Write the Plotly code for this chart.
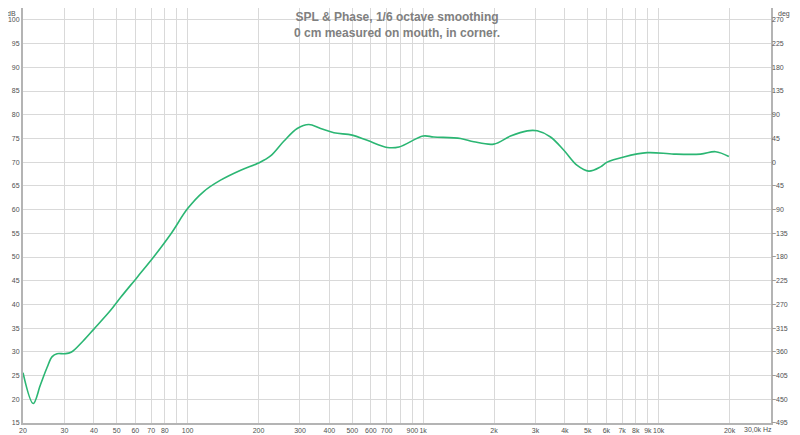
import plotly.graph_objects as go

# Frequency response data (Hz, dB)
freq_hz = [20, 22.1, 23.7, 25.3, 26.6, 27.9, 30, 32, 36, 40, 47, 52, 61, 72, 85, 100, 117, 138, 168,
           200, 225, 256, 292, 327, 367, 418, 500, 579, 704, 790, 1000, 1110, 1442, 1642,
           1996, 2350, 2767, 3051, 3475, 3959, 4510, 5052, 5665, 6047, 7116, 8944, 11604,
           15066, 17443, 19870]
spl_db = [25.6, 19.1, 23.0, 26.7, 29.0, 29.6, 29.6, 29.9, 32.3, 34.8, 38.7, 41.5, 45.7, 50.1, 54.9, 60.2,
          63.8, 66.2, 68.3, 69.8, 71.3, 74.4, 77.1, 77.95, 77.1, 76.2, 75.7, 74.6, 73.1,
          73.2, 75.5, 75.3, 75.0, 74.3, 73.8, 75.5, 76.6, 76.6, 75.3, 72.5, 69.3, 68.1,
          69.0, 70.0, 71.1, 72.0, 71.7, 71.7, 72.2, 71.2]

x_tick_vals = [20, 30, 40, 50, 60, 70, 80, 90, 100, 200, 300, 400, 500, 600, 700, 800, 900,
               1000, 2000, 3000, 4000, 5000, 6000, 7000, 8000, 9000, 10000, 20000, 30000]
x_tick_text = ["20", "30", "40", "50", "60", "70", "80", "", "100", "200", "300", "400", "500",
               "600", "700", "", "900", "1k", "2k", "3k", "4k", "5k", "6k", "7k", "8k", "9k",
               "10k", "20k", ""]
db_ticks = list(range(15, 101, 5))
deg_ticks = list(range(-495, 271, 45))

title_lines = ["SPL & Phase, 1/6 octave smoothing", "0 cm measured on mouth, in corner."]

FONT = "Liberation Sans, Arial, sans-serif"
TICKCOL = "#505050"
GRID = "#d9d9d9"
FRAME = "#b4b4b4"

fig = go.Figure()
fig.add_trace(go.Scatter(x=freq_hz, y=spl_db, mode="lines",
                         line=dict(color="#2bb673", width=1.6, shape="spline", smoothing=1.0),
                         hoverinfo="skip", showlegend=False))
# invisible trace to activate the phase axis
fig.add_trace(go.Scatter(x=[20], y=[0], yaxis="y2", mode="markers", marker=dict(opacity=0),
                         showlegend=False, hoverinfo="skip"))

# the page body adds an 8px offset, so the figure is sized to end at the window edge
fig.update_layout(
    width=792, height=427,
    margin=dict(l=15, r=29, t=0, b=12, autoexpand=False),
    paper_bgcolor="white", plot_bgcolor="white",
    font=dict(family=FONT, size=7, color=TICKCOL),
    xaxis=dict(type="log", range=[1.30103, 4.4771213], tickvals=x_tick_vals, ticktext=x_tick_text,
               showgrid=True, gridcolor=GRID, gridwidth=1, showline=True, linecolor=FRAME, linewidth=2,
               mirror=True, ticks="", ticklen=0, tickangle=0, automargin=False,
               tickfont=dict(size=7, color=TICKCOL), zeroline=False),
    yaxis=dict(range=[15, 102.5], tickvals=db_ticks, showgrid=True, gridcolor=GRID, gridwidth=1,
               showline=True, linecolor=FRAME, linewidth=2, mirror=True, ticks="", zeroline=False,
               automargin=False, tickfont=dict(size=7, color=TICKCOL)),
    yaxis2=dict(range=[-495, 292.5], tickvals=deg_ticks, overlaying="y", side="right", showgrid=False,
                zeroline=False, ticks="", automargin=False, tickfont=dict(size=7, color=TICKCOL)),
)
fig.add_annotation(text="<b>" + "<br>".join(title_lines) + "</b>", x=0.5, xref="paper", y=1, yref="paper",
                   xanchor="center", yanchor="top", yshift=0, showarrow=False, align="center",
                   font=dict(family=FONT, size=12, color="#808080"))
fig.add_annotation(text="dB", x=0, xref="paper", y=1, yref="paper", xanchor="right", yanchor="top",
                   xshift=-5, yshift=0, showarrow=False, font=dict(size=7, color=TICKCOL))
fig.add_annotation(text="deg", x=1, xref="paper", y=1, yref="paper", xanchor="left", yanchor="top",
                   xshift=5, yshift=0, showarrow=False, font=dict(size=7, color=TICKCOL))
fig.add_annotation(text="30,0k Hz", x=1, xref="paper", y=0, yref="paper", xanchor="right", yanchor="top",
                   xshift=3, yshift=-1, showarrow=False, font=dict(size=7, color=TICKCOL))

fig.write_html("out.html")
